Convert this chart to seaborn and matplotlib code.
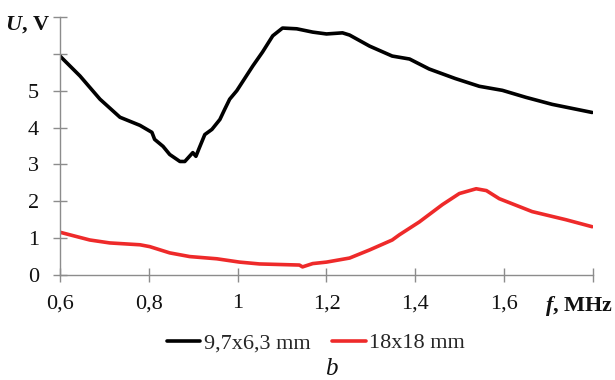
import numpy as np
import pandas as pd
import matplotlib
matplotlib.use("Agg")
import matplotlib.pyplot as plt
import seaborn as sns

# ---- data ----
f_black = [0.600, 0.645, 0.690, 0.735, 0.780, 0.807, 0.813, 0.832, 0.847, 0.870,
           0.881, 0.899, 0.906, 0.913, 0.926, 0.942, 0.960, 0.971, 0.982, 0.998,
           1.034, 1.056, 1.079, 1.101, 1.133, 1.169, 1.200, 1.236, 1.252, 1.297,
           1.348, 1.387, 1.431, 1.490, 1.544, 1.596, 1.649, 1.708, 1.798]
u_black = [5.94, 5.40, 4.77, 4.28, 4.06, 3.87, 3.68, 3.49, 3.27, 3.08,
           3.08, 3.32, 3.22, 3.43, 3.81, 3.95, 4.22, 4.50, 4.77, 5.00,
           5.67, 6.05, 6.49, 6.70, 6.68, 6.59, 6.54, 6.57, 6.51, 6.21,
           5.94, 5.86, 5.59, 5.33, 5.12, 5.01, 4.82, 4.63, 4.41]
f_red = [0.600, 0.667, 0.712, 0.780, 0.802, 0.847, 0.892, 0.953, 1.004, 1.049,
         1.139, 1.146, 1.169, 1.200, 1.252, 1.297, 1.348, 1.364, 1.409, 1.461,
         1.499, 1.537, 1.560, 1.589, 1.663, 1.739, 1.798]
u_red = [1.16, 0.95, 0.87, 0.82, 0.77, 0.60, 0.50, 0.44, 0.35, 0.30,
         0.27, 0.22, 0.31, 0.35, 0.46, 0.68, 0.95, 1.09, 1.44, 1.91,
         2.21, 2.34, 2.29, 2.07, 1.72, 1.50, 1.31]
series_names = ["9,7x6,3 mm", "18x18 mm"]
x_ticks = [0.6, 0.8, 1.0, 1.2, 1.4, 1.6, 1.8]
x_tick_labels = ["0,6", "0,8", "1", "1,2", "1,4", "1,6", ""]
y_ticks = [0, 1, 2, 3, 4, 5, 6, 7]
y_tick_labels = ["0", "1", "2", "3", "4", "5", "", ""]

df = pd.concat([
    pd.DataFrame({"f": f_black, "U": u_black, "series": series_names[0]}),
    pd.DataFrame({"f": f_red, "U": u_red, "series": series_names[1]}),
])

sns.set_theme(style="white")
plt.rcParams["font.family"] = ["Liberation Serif", "DejaVu Serif"]
plt.rcParams["mathtext.fontset"] = "custom"
plt.rcParams["mathtext.rm"] = "Liberation Serif"
plt.rcParams["mathtext.it"] = "Liberation Serif:italic"
plt.rcParams["mathtext.bf"] = "Liberation Serif:bold"
plt.rcParams["mathtext.bfit"] = "Liberation Serif:bold:italic"

fig = plt.figure(figsize=(6.15, 3.8), dpi=100)
ax = fig.add_axes([60/615, 1-275/380, (593-60)/615, (275-17)/380])

sns.lineplot(data=df, x="f", y="U", hue="series", sort=False, estimator=None,
             palette={series_names[0]: "#000000", series_names[1]: "#ee2a2a"},
             linewidth=2.6, ax=ax, legend=True)
for ln in ax.get_lines():
    ln.set_solid_joinstyle("round")
    ln.set_solid_capstyle("round")

ax.set_xlim(0.6, 1.8)
ax.set_ylim(0, 7)
ax.set_xticks(x_ticks)
ax.set_xticklabels(x_tick_labels)
ax.set_yticks(y_ticks)
ax.set_yticklabels(y_tick_labels)
ax.set_xlabel("")
ax.set_ylabel("")
for s in ["top", "right"]:
    ax.spines[s].set_visible(False)
for s in ["left", "bottom"]:
    ax.spines[s].set_color("#8c8c8c")
    ax.spines[s].set_linewidth(1.0)
ax.tick_params(axis="both", bottom=True, left=True, direction="inout", length=10,
               width=1.0, color="#8c8c8c", labelsize=16, labelcolor="#111111")
ax.tick_params(axis="x", pad=9)
ax.tick_params(axis="y", pad=10)

ax.text((613-60)/533, -0.075, r"$\mathbfit{f}$, MHz", transform=ax.transAxes,
        ha="right", va="top", fontsize=16, fontweight="bold", color="#111111")
ax.text(-0.018, 6.8, r"$\mathbfit{U}$, V", transform=ax.get_yaxis_transform(),
        ha="right", va="center", fontsize=16, fontweight="bold", color="#111111")

leg = ax.legend(loc="upper center", bbox_to_anchor=(0.48, -0.19), ncol=2,
                frameon=False, fontsize=16, handlelength=1.5, handletextpad=0.15,
                columnspacing=1.0, borderaxespad=0)
for line in leg.get_lines():
    line.set_linewidth(2.6)

fig.text(331/615, 1-369/380, "b", fontsize=18, style="italic", ha="center", va="center",
         color="#111111")

fig.savefig("out.png", dpi=100)
